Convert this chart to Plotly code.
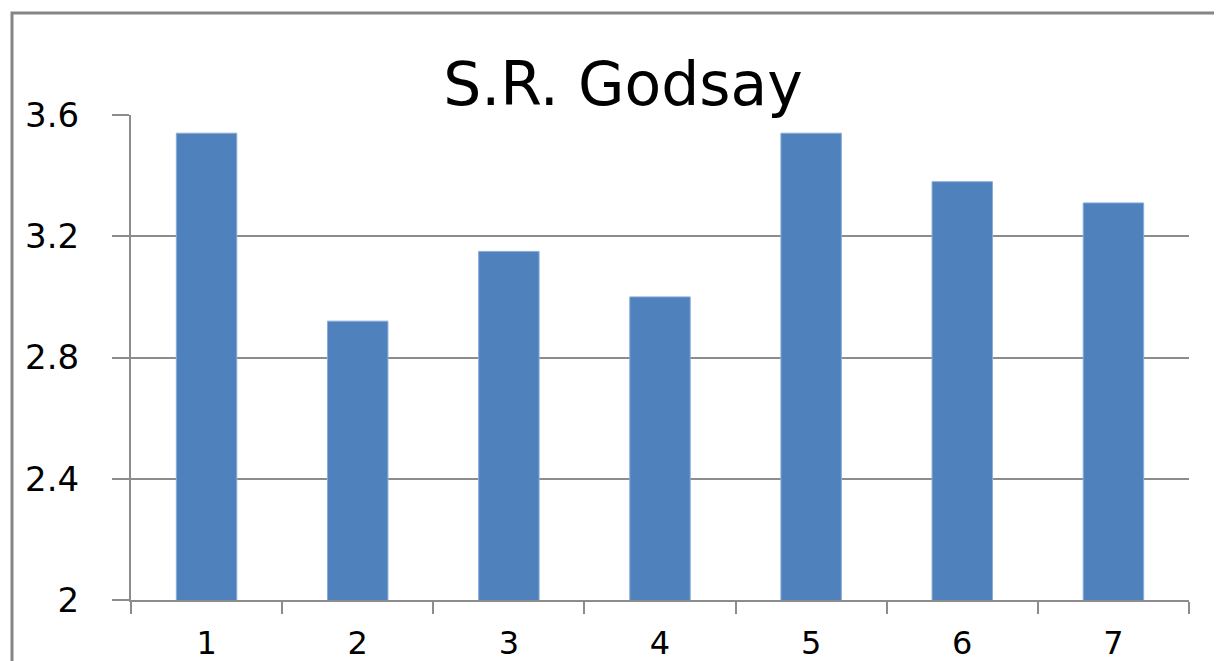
import plotly.graph_objects as go

categories = ["1", "2", "3", "4", "5", "6", "7"]
values = [3.54, 2.92, 3.15, 3.0, 3.54, 3.38, 3.31]
y_ticks = [2, 2.4, 2.8, 3.2, 3.6]
y_tick_labels = ["2", "2.4", "2.8", "3.2", "3.6"]
title_text = "S.R. Godsay"

FONT = "DejaVu Sans"
GRID = "#8c8c8c"

W, H = 1214, 653
L, T = 123, 107
PW = 1058
PH = 485

fig = go.Figure(
    go.Bar(
        x=categories,
        y=values,
        marker=dict(color="#4F81BD", line=dict(color="#8AADD8", width=1)),
    )
)

fig.update_layout(
    width=W,
    height=H,
    margin=dict(l=L, r=W - L - PW, t=T, b=H - T - PH, autoexpand=False),
    paper_bgcolor="white",
    plot_bgcolor="white",
    bargap=0.6,
    showlegend=False,
    title=dict(
        text=title_text,
        x=(615 - L) / PW,
        xref="paper",
        xanchor="center",
        y=1 - 76 / H,
        yref="container",
        yanchor="middle",
        font=dict(family=FONT, size=60, color="black"),
    ),
    xaxis=dict(
        type="category",
        automargin=False,
        showgrid=False,
        showline=True,
        linecolor=GRID,
        linewidth=2,
        ticks="outside",
        tickson="boundaries",
        ticklen=12,
        tickwidth=2,
        tickcolor=GRID,
        tickfont=dict(family=FONT, size=32, color="black"),
        ticklabelstandoff=14,
    ),
    yaxis=dict(
        range=[2, 3.6],
        automargin=False,
        tickvals=y_ticks,
        ticktext=y_tick_labels,
        showgrid=True,
        gridcolor=GRID,
        gridwidth=2,
        zeroline=False,
        showline=True,
        linecolor=GRID,
        linewidth=2,
        ticks="outside",
        ticklen=17,
        tickwidth=2,
        tickcolor=GRID,
        tickfont=dict(family=FONT, size=34, color="black"),
        ticklabelstandoff=26,
    ),
    shapes=[
        dict(
            type="rect",
            xref="paper",
            yref="paper",
            x0=(4 - L) / PW,
            x1=1.2,
            y0=-0.3,
            y1=(T + PH - 5) / PH,
            line=dict(color="#858585", width=3),
            fillcolor="rgba(0,0,0,0)",
            layer="below",
        )
    ],
)

fig.write_html("out.html")
